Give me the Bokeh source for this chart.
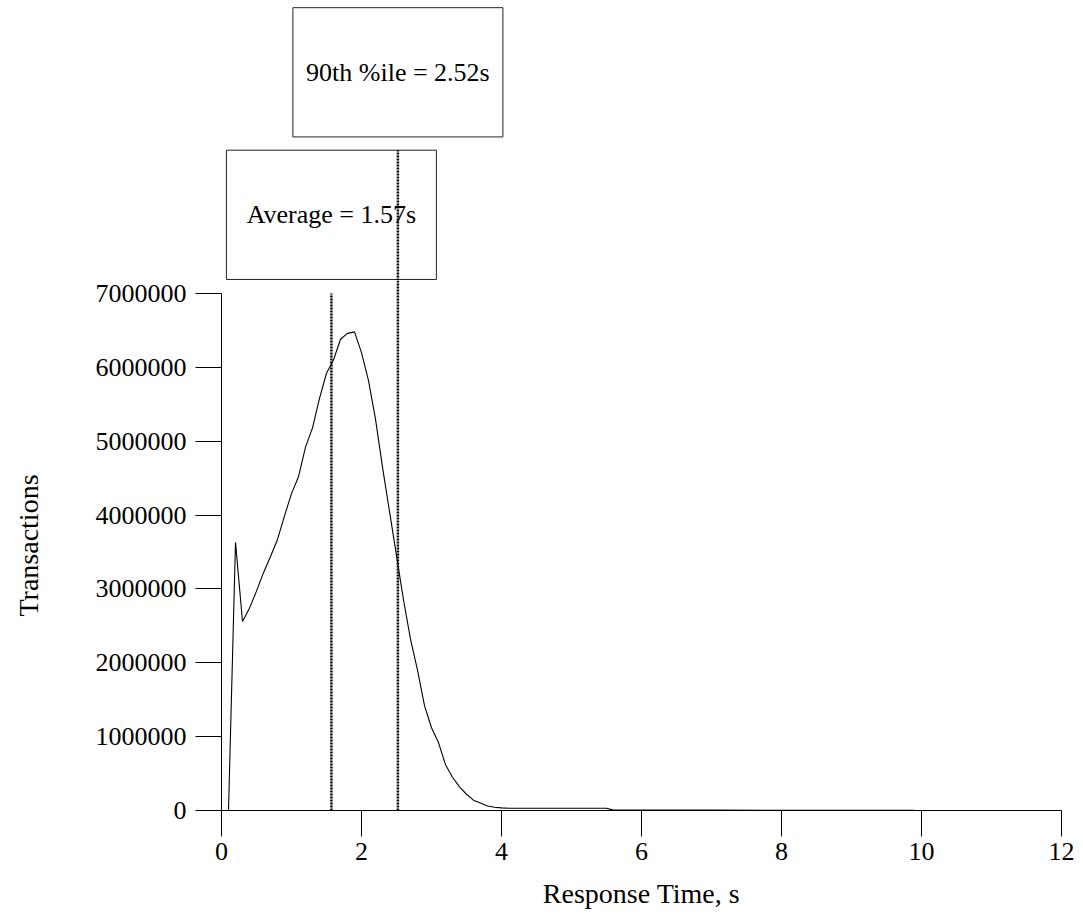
from bokeh.plotting import figure
from bokeh.layouts import column
from bokeh.models import Range1d, FixedTicker, NumeralTickFormatter, ColumnDataSource
from bokeh.core.properties import value
from bokeh.embed import file_html
from bokeh.resources import INLINE

# ---- data ----
resp_time = [0.1, 0.2, 0.3, 0.4, 0.5, 0.6, 0.7, 0.8, 0.9, 1.0,
             1.1, 1.2, 1.3, 1.4, 1.5, 1.6, 1.7, 1.8, 1.9, 2.0,
             2.1, 2.2, 2.3, 2.4, 2.5, 2.6, 2.7, 2.8, 2.9, 3.0,
             3.1, 3.2, 3.3, 3.4, 3.5, 3.6, 3.7, 3.8, 3.9, 4.0,
             4.1, 4.5, 5.0, 5.5, 5.6, 6.0, 7.0, 8.0, 9.0, 9.9]
transactions = [0, 3630000, 2560000, 2740000, 2970000, 3220000, 3440000, 3670000, 3990000, 4290000,
                4520000, 4920000, 5180000, 5580000, 5920000, 6100000, 6380000, 6460000, 6480000, 6200000,
                5820000, 5300000, 4650000, 4050000, 3450000, 2850000, 2320000, 1900000, 1420000, 1120000,
                920000, 620000, 450000, 320000, 220000, 140000, 100000, 60000, 45000, 35000,
                30000, 30000, 30000, 30000, 5000, 5000, 5000, 4000, 4000, 4000]
stat_names = ["Average", "90th %ile"]
stat_values = [1.57, 2.52]
x_ticks = [0, 2, 4, 6, 8, 10, 12]
y_ticks = [0, 1000000, 2000000, 3000000, 4000000, 5000000, 6000000, 7000000]
x_title = "Response Time, s"
y_title = "Transactions"

FONT = "Liberation Serif"
FS = "26px"
TITLE_FS = "28px"

# ---- layout (pixels) ----
BORDER_L, BORDER_R, BORDER_B = 221, 13, 110
FRAME_W = 840
SPLIT = 280          # page y where the annotation strip ends and the chart frame starts
AXIS_Y = 810         # page y of the x axis
PX_PER_Y = 517 / 7e6
main_frame_h = AXIS_Y - SPLIT
y_split = main_frame_h / PX_PER_Y
y_top = y_split + SPLIT / PX_PER_Y

x_range = Range1d(x_ticks[0], x_ticks[-1])

# ---- annotation strip (boxes above the chart) ----
top = figure(width=BORDER_L + FRAME_W + BORDER_R, height=SPLIT,
             x_range=x_range, y_range=Range1d(y_split, y_top),
             output_backend="svg", toolbar_location=None,
             x_axis_type=None, y_axis_type=None,
             min_border_left=BORDER_L, min_border_right=BORDER_R,
             min_border_top=0, min_border_bottom=0)
top.outline_line_color = None
top.xgrid.visible = False
top.ygrid.visible = False

half_w = 1.5
box_bottom = [7.19e6, 9.12e6]
box_top = [8.94e6, 10.87e6]
src_box = ColumnDataSource(dict(
    left=[v - half_w for v in stat_values],
    right=[v + half_w for v in stat_values],
    bottom=box_bottom, top=box_top,
    x=stat_values, y=[(b + t) / 2 for b, t in zip(box_bottom, box_top)],
    label=[f"{n} = {v:.2f}s" for n, v in zip(stat_names, stat_values)],
))
top.quad(left="left", right="right", bottom="bottom", top="top", source=src_box,
         fill_color="white", line_color="#222222", line_width=1)
top.text(x="x", y="y", text="label", source=src_box, text_font=value(FONT),
         text_font_size=FS, text_align="center", text_baseline="middle", text_color="black")
top.segment(x0=[stat_values[1]], y0=[y_split], x1=[stat_values[1]], y1=[box_top[0]],
            line_color="black", line_width=2.5, line_dash="2 1")

# ---- main chart ----
p = figure(width=BORDER_L + FRAME_W + BORDER_R, height=main_frame_h + BORDER_B,
           x_range=x_range, y_range=Range1d(0, y_split),
           output_backend="svg", toolbar_location=None,
           min_border_left=BORDER_L, min_border_right=BORDER_R,
           min_border_top=0, min_border_bottom=BORDER_B)
p.outline_line_color = None
p.xgrid.visible = False
p.ygrid.visible = False

p.line(resp_time, transactions, line_color="black", line_width=1.1)

line_tops = [y_ticks[-1], y_split]
p.segment(x0=stat_values, y0=[0, 0], x1=stat_values, y1=line_tops,
          line_color="black", line_width=2.5, line_dash="2 1")

for ax in (p.xaxis[0], p.yaxis[0]):
    ax.axis_line_color = "black"
    ax.axis_line_width = 1
    ax.major_tick_line_color = "black"
    ax.major_tick_out = 26
    ax.major_tick_in = 0
    ax.minor_tick_line_color = None
    ax.major_label_text_font = FONT
    ax.major_label_text_font_size = FS
    ax.major_label_text_color = "black"
    ax.axis_label_text_font = FONT
    ax.axis_label_text_font_size = TITLE_FS
    ax.axis_label_text_font_style = "normal"
    ax.axis_label_text_color = "black"

p.xaxis.ticker = FixedTicker(ticks=x_ticks)
p.xaxis.bounds = (x_ticks[0], x_ticks[-1])
p.xaxis.major_label_standoff = 6
p.xaxis.axis_label = x_title
p.xaxis.axis_label_standoff = 15

p.yaxis.ticker = FixedTicker(ticks=y_ticks)
p.yaxis.bounds = (y_ticks[0], y_ticks[-1])
p.yaxis.formatter = NumeralTickFormatter(format="0")
p.yaxis.major_label_standoff = 9
p.yaxis.axis_label = y_title
p.yaxis.axis_label_standoff = 49

layout = column(top, p, spacing=0)
open("out.html", "w").write(file_html(layout, INLINE))
